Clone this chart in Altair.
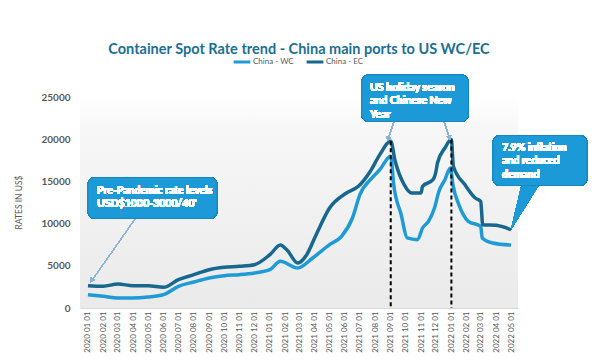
import altair as alt
import pandas as pd

# ---------------- data ----------------
months = ["2020-01-01", "2020-02-01", "2020-03-01", "2020-04-01", "2020-05-01", "2020-06-01",
          "2020-07-01", "2020-08-01", "2020-09-01", "2020-10-01", "2020-11-01", "2020-12-01",
          "2021-01-01", "2021-02-01", "2021-03-01", "2021-04-01", "2021-05-01", "2021-06-01",
          "2021-07-01", "2021-08-01", "2021-09-01", "2021-10-01", "2021-11-01", "2021-12-01",
          "2022-01-01", "2022-02-01", "2022-03-01", "2022-04-01", "2022-05-01"]

wc_dates = ["2020-01-01", "2020-02-01", "2020-03-01", "2020-04-01", "2020-05-01", "2020-06-01",
            "2020-07-01", "2020-08-01", "2020-09-01", "2020-10-01", "2020-11-01", "2020-12-01",
            "2021-01-01", "2021-01-22", "2021-02-26", "2021-03-28", "2021-05-01", "2021-05-25",
            "2021-06-16", "2021-07-01", "2021-07-25", "2021-08-10", "2021-09-01", "2021-09-07",
            "2021-09-22", "2021-10-04", "2021-10-25", "2021-11-04", "2021-11-16", "2021-11-28",
            "2021-12-07", "2021-12-19", "2021-12-30", "2022-01-04", "2022-01-16", "2022-02-04",
            "2022-03-01", "2022-03-04", "2022-03-25", "2022-05-01"]
wc_values = [1580, 1380, 1185, 1185, 1300, 1580,
             2570, 3080, 3555, 3830, 3950, 4150,
             4540, 5530, 4740, 5925, 7500, 8490,
             10665, 13430, 15400, 16390, 17980, 14620,
             11060, 8300, 8100, 9480, 10270, 11850,
             13830, 15200, 16590, 14620, 12240, 10270,
             9680, 8300, 7700, 7450]

ec_dates = ["2020-01-01", "2020-02-01", "2020-03-01", "2020-04-01", "2020-05-01", "2020-06-01",
            "2020-07-01", "2020-08-01", "2020-09-01", "2020-10-01", "2020-11-01", "2020-12-01",
            "2021-01-01", "2021-01-22", "2021-02-04", "2021-02-26", "2021-03-16", "2021-04-04",
            "2021-05-01", "2021-06-04", "2021-06-28", "2021-07-22", "2021-08-10", "2021-09-01",
            "2021-09-10", "2021-09-28", "2021-10-13", "2021-11-01", "2021-11-04", "2021-11-25",
            "2021-12-01", "2021-12-04", "2021-12-19", "2022-01-01", "2022-01-05", "2022-01-28",
            "2022-02-18", "2022-03-01", "2022-03-05", "2022-04-01", "2022-05-01"]
ec_values = [2640, 2580, 2840, 2640, 2640, 2450,
             3360, 3950, 4540, 4820, 4940, 5130,
             6320, 7450, 6900, 5330, 6320, 8690,
             11850, 13630, 14420, 16200, 18170, 19750,
             17380, 14620, 13630, 13630, 14420, 15200,
             16200, 17180, 18960, 19950, 16800, 14620,
             13030, 12640, 9870, 9800, 9280]

series_names = ["China - WC", "China - EC"]
series_colors = ["#1e9ad6", "#17678f"]

rule_dates = ["2021-09-01", "2022-01-01"]
rule_tops = [19750, 19950]

y_ticks = [0, 5000, 10000, 15000, 20000, 25000]

# ---------------- tables ----------------
df = pd.concat([
    pd.DataFrame({"date": [d + "T00:00:00" for d in wc_dates], "rate": wc_values, "series": series_names[0]}),
    pd.DataFrame({"date": [d + "T00:00:00" for d in ec_dates], "rate": ec_values, "series": series_names[1]}),
])
df_rules = pd.DataFrame({"date": [d + "T00:00:00" for d in rule_dates], "rate": rule_tops})

W, H = 438, 211
FONT = "Lato"
LABEL_COL = "#595959"
BOX_COL = "#1c9ad7"

x_scale = alt.Scale(domain=[alt.DateTime(year=2019, month=12, date=16),
                            alt.DateTime(year=2022, month=5, date=15)])
x_axis = alt.Axis(values=[alt.DateTime(year=int(m[:4]), month=int(m[5:7]), date=1) for m in months],
                  format="%Y %m %d", labelAngle=270, labelAlign="right",
                  labelBaseline="middle", labelFontSize=8, labelColor=LABEL_COL,
                  labelFont=FONT, ticks=False, domainColor="#d9d9d9", labelPadding=3,
                  grid=False, labelOverlap=False, labelFlush=False, title=None)
y_scale = alt.Scale(domain=[0, 25000], nice=False)
y_axis = alt.Axis(values=y_ticks, format="d", labelFontWeight="bold", labelFontSize=10,
                  labelColor=LABEL_COL, labelFont=FONT, ticks=False, domain=False,
                  grid=False, labelPadding=10, title="RATES IN US$",
                  titleFontSize=8.5, titleFontWeight="normal", titleColor=LABEL_COL,
                  titleFont=FONT, titleAngle=270, titleX=-62, titleY=105,
                  titleAlign="center", titleBaseline="middle")

x_enc = alt.X("date:T", scale=x_scale, axis=x_axis)
y_enc = alt.Y("rate:Q", scale=y_scale, axis=y_axis)

bg = alt.Chart(df).mark_rect(
    color=alt.Gradient(gradient="linear", x1=0, x2=0, y1=0, y2=1,
                       stops=[alt.GradientStop(color="#ffffff", offset=0),
                              alt.GradientStop(color="#f7f7f7", offset=0.15),
                              alt.GradientStop(color="#eaeaea", offset=1)])
).encode(x=alt.value(0), x2=alt.value(W), y=alt.value(0), y2=alt.value(H))

lines = alt.Chart(df).mark_line(interpolate="monotone", strokeWidth=3.5).encode(
    x=x_enc, y=y_enc,
    color=alt.Color("series:N",
                    scale=alt.Scale(domain=series_names, range=series_colors),
                    legend=alt.Legend(orient="none", legendX=152, legendY=-45, direction="horizontal",
                                      title=None, symbolType="stroke", symbolStrokeWidth=3,
                                      symbolSize=280, labelFontSize=8, labelColor=LABEL_COL,
                                      labelFont=FONT, columnPadding=6, labelOffset=1)),
    detail="series:N",
)

rules = alt.Chart(df_rules).mark_rule(color="black", strokeWidth=2, strokeDash=[4, 3]).encode(
    x=x_enc, y=y_enc, y2=alt.datum(0))

# ---------------- annotations ----------------
def box(x1, x2, y1, y2):
    return alt.Chart(df).mark_rect(color=BOX_COL, cornerRadius=7, stroke="#1588c4", strokeWidth=1).encode(
        x=alt.value(x1), x2=alt.value(x2), y=alt.value(y1), y2=alt.value(y2))

def label(x, y, lines_):
    return alt.Chart(df).mark_text(align="left", baseline="middle", color="white", fontWeight="bold",
                                   fontSize=10.5, font=FONT, lineHeight=13.5).encode(
        x=alt.value(x), y=alt.value(y), text=alt.value(lines_))

def arrow(x1, y1, x2, y2):
    return alt.Chart(df).mark_rule(color="#8db3d6", strokeWidth=1).encode(
        x=alt.value(x1), y=alt.value(y1), x2=alt.value(x2), y2=alt.value(y2))

def head(x, y, ang):
    return alt.Chart(df).mark_point(shape="triangle", filled=True, color="#8db3d6", size=22,
                                    angle=ang, opacity=1).encode(x=alt.value(x), y=alt.value(y))

ann = [
    arrow(55, 122, 13, 182), head(12, 183, 215),
    box(8, 137, 80.5, 121.5), label(17, 93.5, ["Pre-Pandemic rate levels", "USD$1000-3000/40'"]),
    arrow(314, 24.5, 308.5, 41), head(308.3, 41.5, 198),
    arrow(364, 24.5, 369, 39.5), head(369.3, 40, 162),
    box(281.7, 388.3, -22.2, 24.5),
    label(290, -9.5, ["US holiday season", "and Chinese New", "Year"]),
    alt.Chart(df).mark_point(shape="M -0.16 -1.1 L 0.66 -1.1 L -0.66 1 Z", filled=True, color=BOX_COL,
                             size=1936, opacity=1).encode(x=alt.value(445.5), y=alt.value(110.5)),
    box(413, 507, 38.5, 88.5),
    label(422, 50.5, ["7.9% inflation", "and reduced", "demand"]),
]

chart = alt.layer(bg, lines, rules, *ann).properties(
    width=W, height=H,
    autosize=alt.AutoSizeParams(type="none"),
    padding={"left": 72, "top": 89, "right": 74, "bottom": 47},
    title=alt.TitleParams("Container Spot Rate trend - China main ports to US WC/EC",
                          font=FONT, fontSize=14.5, fontWeight="bold", color="#1b6f96",
                          anchor="middle", frame="group", offset=-5),
).configure_view(stroke=None)

chart.save("out.html", embed_options={"renderer": "svg", "actions": False})
